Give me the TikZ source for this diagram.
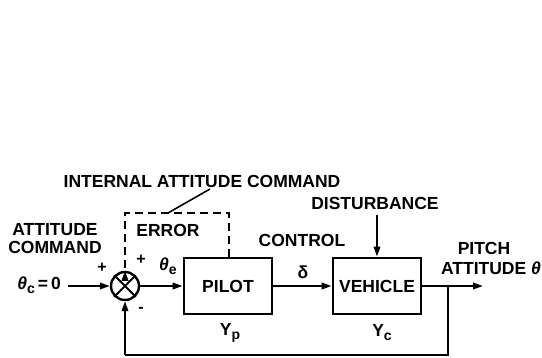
\documentclass[tikz,border=0pt]{standalone}
\usepackage{fontspec}
\setmainfont{Liberation Sans}
\usetikzlibrary{arrows.meta}
\newcommand{\sbx}[1]{\raisebox{-4pt}{\fontsize{14}{14}\selectfont #1}}
\begin{document}
\begin{tikzpicture}[x=1pt,y=-1pt,
  lbl/.style={font=\fontsize{17.5}{19}\selectfont\bfseries, inner sep=0pt, align=center},
  sgn/.style={font=\fontsize{16}{16}\selectfont\bfseries, inner sep=0pt},
  blk/.style={draw, line width=2.8pt, minimum width=88pt, minimum height=56pt, inner sep=0pt, font=\fontsize{17.5}{19}\selectfont\bfseries},
  conn/.style={line width=2pt},
  arr/.style={conn, -{Triangle[length=10pt,width=6.5pt]}},
  dsh/.style={line width=2pt, dash pattern=on 8pt off 5pt},
]
\useasboundingbox (0,0) rectangle (542,357);

\node[blk] (pilot) at (228,286) {PILOT};
\node[blk] (veh) at (377,286) {VEHICLE};
\node[draw, circle, line width=2.4pt, minimum size=28pt, inner sep=0pt] (sum) at (125,286) {};
\draw[line width=2pt] (sum.north west) -- (sum.south east) (sum.north east) -- (sum.south west);

\node[lbl] (iac) at (202,181) {INTERNAL ATTITUDE COMMAND};
\node[lbl] (ac) at (55,239) {ATTITUDE\\[-1pt]COMMAND};
\node[lbl, anchor=east] (thc) at (61,285) {{\itshape θ}\sbx{c}\,=\,0};
\node[lbl] (err) at (168,230) {ERROR};
\node[lbl] (ctl) at (302,240) {CONTROL};
\node[lbl] (dist) at (375,203) {DISTURBANCE};
\node[lbl] (pitch) at (484,248) {PITCH};
\node[lbl] (patt) at (491,268) {ATTITUDE {\itshape θ}};
\node[lbl] (delta) at (303,272) {δ};
\node[lbl] (the) at (168,266) {{\itshape θ}\sbx{e}};
\node[lbl] (yp) at (230,333) {Y\sbx{p}};
\node[lbl] (yc) at (382,333) {Y\sbx{c}};
\node[sgn] (p1) at (102,268) {+};
\node[sgn] (p2) at (141,260) {+};
\node[sgn] (m1) at (141,310) {-};

\coordinate (in) at (68,286);
\coordinate (out) at (483,286);
\coordinate (tap) at (448,286);
\coordinate (fbr) at (448,355);
\coordinate (fbl) at (125,355);
\coordinate (dtop) at (377,215);
\coordinate (dr) at (229,213);
\coordinate (dl) at (125,213);
\coordinate (ptr) at (168,213);

\draw[arr] (in) -- (sum.west);
\draw[arr] (sum.east) -- (pilot.west);
\draw[arr] (pilot.east) -- (veh.west);
\draw[arr] (veh.east) -- (out);
\draw[arr] (dtop) -- (veh.north);
\draw[conn] (tap) -- (fbr) -- (fbl);
\draw[arr] (fbl) -- (sum.south);
\draw[dsh] (pilot.north -| dr) -- (dr) -- (dl) -- ([yshift=-10pt]sum.north);
\draw[arr] ([yshift=-10pt]sum.north) -- (sum.north);
\draw[line width=1.6pt] (210,189) -- (ptr);
\end{tikzpicture}
\end{document}
